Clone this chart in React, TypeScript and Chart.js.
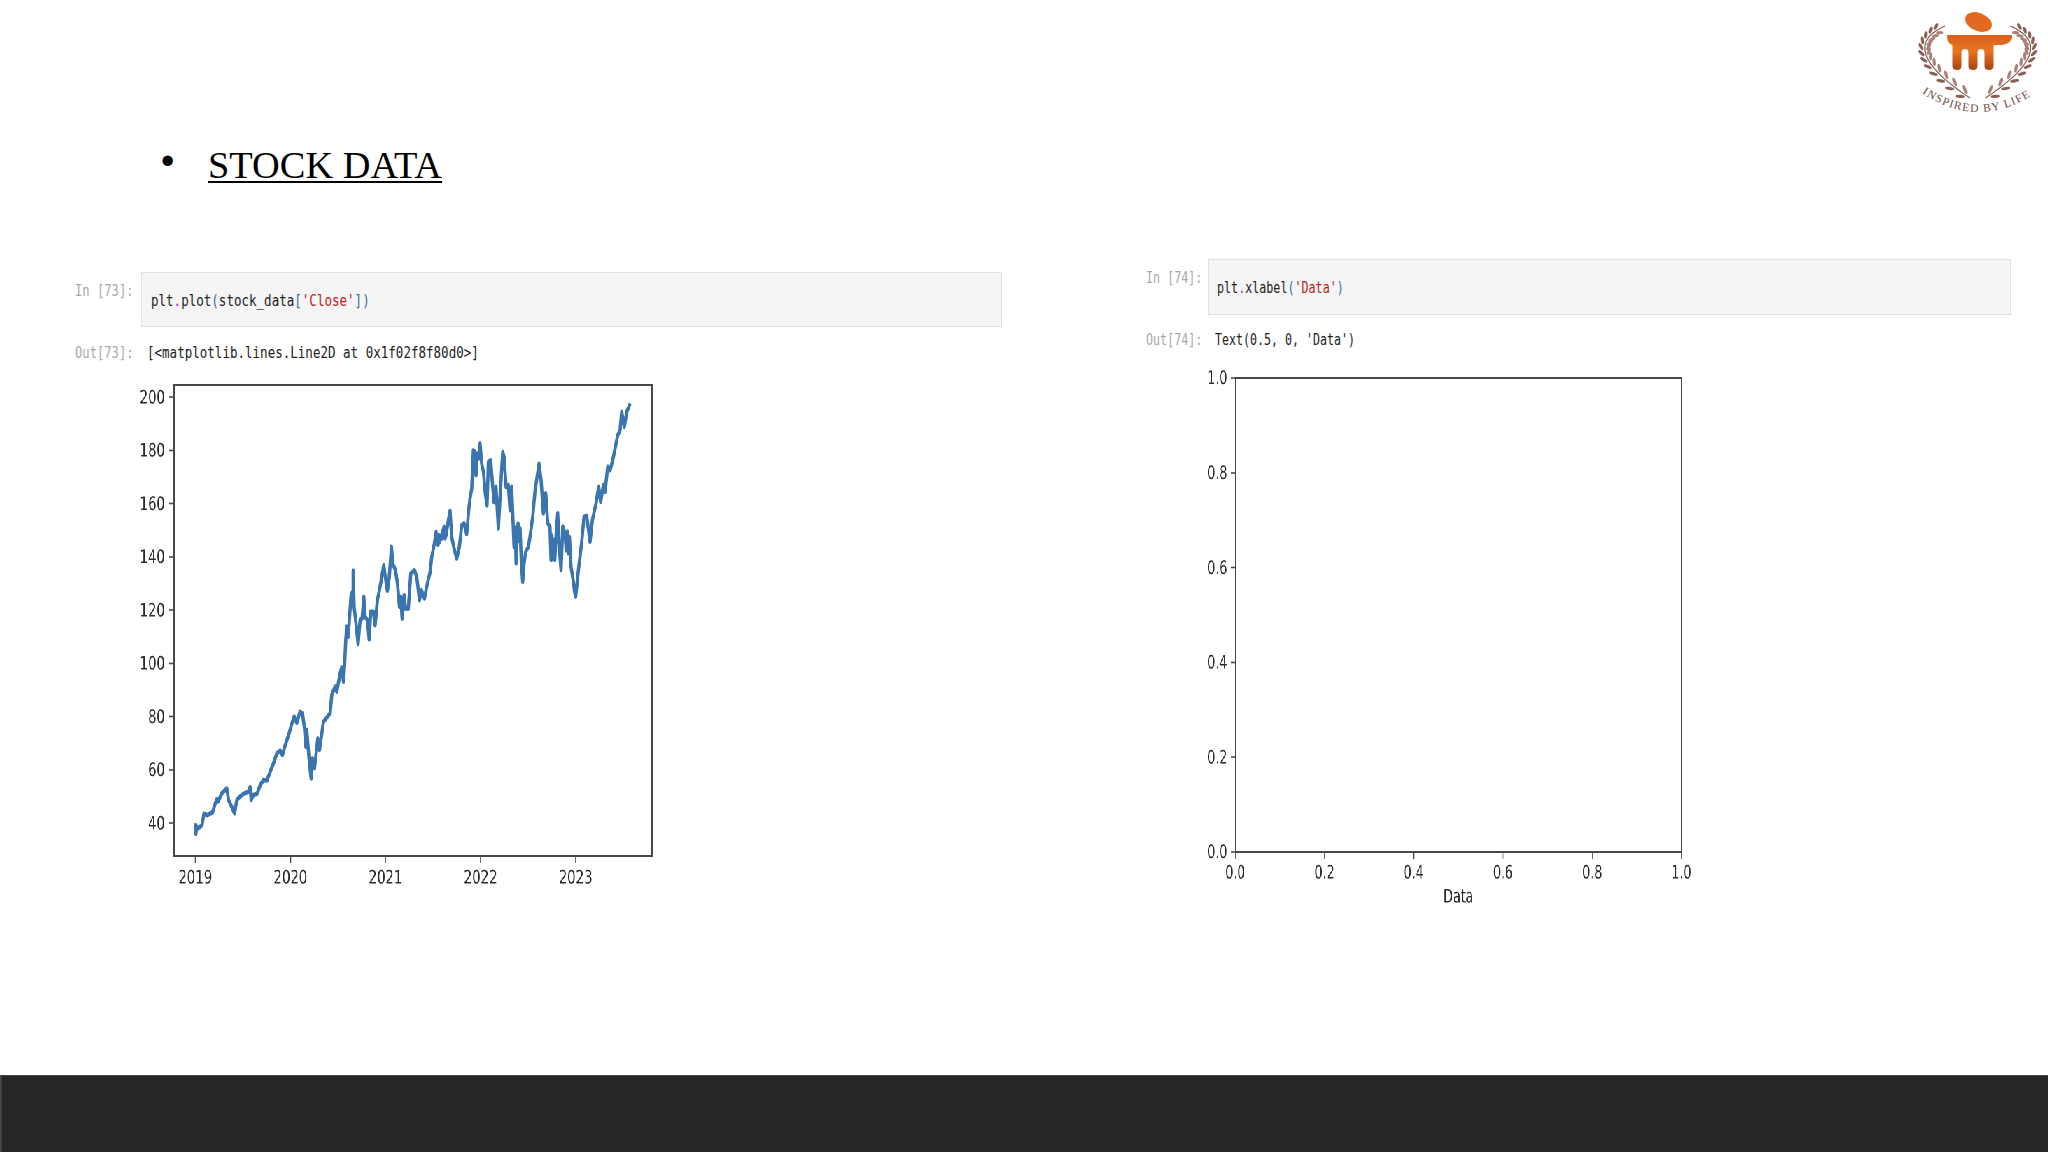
import React, { useEffect, useRef } from "react";
import { Chart, registerables } from "chart.js";

Chart.register(...registerables);

const closeYears = [
  2019.000,2019.005,2019.012,2019.026,2019.050,2019.070,2019.090,2019.125,
  2019.156,2019.180,2019.210,2019.226,2019.240,2019.278,2019.330,2019.349,
  2019.384,2019.412,2019.436,2019.470,2019.506,2019.559,2019.576,2019.587,
  2019.610,2019.647,2019.664,2019.682,2019.717,2019.752,2019.787,2019.822,
  2019.857,2019.892,2019.916,2019.945,2019.980,2020.020,2020.040,2020.067,
  2020.100,2020.127,2020.148,2020.162,2020.172,2020.197,2020.218,2020.232,
  2020.253,2020.288,2020.306,2020.347,2020.418,2020.435,2020.470,2020.488,
  2020.523,2020.540,2020.558,2020.569,2020.582,2020.593,2020.607,2020.620,
  2020.638,2020.653,2020.660,2020.670,2020.690,2020.712,2020.733,2020.754,
  2020.772,2020.786,2020.810,2020.828,2020.845,2020.873,2020.891,2020.915,
  2020.943,2020.982,2021.000,2021.020,2021.040,2021.063,2021.077,2021.105,
  2021.126,2021.147,2021.161,2021.175,2021.196,2021.210,2021.240,2021.266,
  2021.305,2021.329,2021.357,2021.378,2021.410,2021.440,2021.470,2021.486,
  2021.514,2021.532,2021.539,2021.546,2021.553,2021.560,2021.570,2021.580,2021.591,2021.604,2021.616,2021.626,2021.637,2021.661,
  2021.679,2021.696,2021.721,2021.749,2021.777,2021.802,2021.826,2021.854,
  2021.875,2021.889,2021.907,2021.924,2021.933,2021.942,2021.952,2021.966,2021.980,2021.994,2022.012,
  2022.030,2022.050,2022.068,2022.082,2022.106,2022.128,2022.142,2022.162,
  2022.187,2022.205,2022.233,2022.247,2022.268,2022.292,2022.310,2022.327,
  2022.352,2022.358,2022.362,2022.367,2022.373,2022.382,2022.394,2022.405,2022.415,2022.430,2022.443,2022.457,2022.475,2022.503,
  2022.520,2022.548,2022.573,2022.615,2022.636,2022.660,2022.685,2022.706,
  2022.730,2022.741,2022.750,2022.758,2022.766,2022.773,2022.780,2022.795,2022.811,2022.825,2022.846,2022.864,
  2022.888,2022.900,2022.913,2022.923,2022.934,2022.951,2022.976,2022.988,2023.000,2023.029,2023.064,
  2023.088,2023.116,2023.151,2023.176,2023.214,2023.242,2023.263,2023.291,
  2023.309,2023.337,2023.362,2023.390,2023.418,2023.442,2023.467,2023.484,
  2023.512,2023.537,2023.565,2023.578,
];

const closeValues = [
  40.0,36.0,38.8,38.0,38.6,39.3,43.5,43.0,
  43.6,44.0,47.5,49.0,48.2,51.2,53.0,48.7,
  46.0,43.7,48.7,50.0,51.0,51.8,53.5,48.7,
  50.6,51.0,52.5,54.3,56.2,56.0,59.3,62.5,
  66.2,67.2,65.6,69.3,73.0,78.0,80.0,77.7,
  81.8,81.2,75.6,68.7,75.0,63.7,56.8,64.3,
  60.6,71.8,67.5,78.0,81.3,88.2,91.3,89.4,
  96.3,98.5,93.1,98.8,108.8,113.8,110.0,116.3,
  125.6,126.9,134.8,121.3,115.0,107.3,116.3,116.9,
  125.0,117.5,116.3,109.0,119.4,119.4,114.4,123.8,
  128.8,136.9,132.0,127.3,132.5,143.8,137.5,135.0,
  130.0,121.3,125.0,116.9,125.6,120.6,120.6,133.8,
  135.0,132.5,123.8,127.5,124.4,130.0,134.4,140.0,
  145.0,149.4,145.5,147.8,144.6,148.2,145.6,148.0,146.9,149.8,151.3,147.0,148.2,153.8,
  157.3,147.6,143.2,139.4,143.8,151.9,152.6,148.6,
  157.6,161.9,165.7,180.0,171.5,179.5,170.7,178.8,177.0,182.6,175.0,
  172.0,163.8,159.4,175.7,176.3,166.3,160.6,166.3,
  150.7,162.6,179.4,177.6,166.3,167.0,157.6,166.3,
  143.8,151.0,146.0,150.5,137.6,149.0,152.5,146.0,150.7,137.0,130.7,137.5,142.0,143.8,
  147.6,155.0,165.0,175.0,168.9,156.4,163.9,152.6,
  151.4,138.9,148.0,139.5,146.4,140.5,138.9,148.5,156.4,145.0,135.1,151.4,
  148.9,142.5,149.5,141.4,147.5,136.4,130.7,127.0,125.1,135.1,145.7,
  155.1,155.4,145.7,153.9,160.1,166.3,160.7,167.0,
  164.5,173.9,172.6,176.4,181.4,185.7,187.6,194.5,
  188.9,194.5,197.0,196.5,
];

const yearTicks = [2019, 2020, 2021, 2022, 2023];
const closeTicks = [40, 60, 80, 100, 120, 140, 160, 180, 200];
const unitTicks = [0, 0.2, 0.4, 0.6, 0.8, 1.0];
const emptyAxisTitle = "Data";

const TICK_FONT = "'DejaVu Sans', sans-serif";
const INK = "#2b2b2b";

const framePlugin = {
  id: "frame",
  afterDatasetsDraw(chart: any) {
    const { ctx, chartArea: a } = chart;
    ctx.save();
    ctx.strokeStyle = "#484848";
    ctx.lineWidth = 2;
    ctx.strokeRect(a.left, a.top, a.right - a.left, a.bottom - a.top);
    ctx.restore();
  },
};

function axis(
  range: [number, number],
  ticks: number[],
  fmt: (v: number) => string,
  box: { w?: number; h?: number },
  pad: number,
  extra: any = {},
) {
  return {
    type: "linear",
    min: range[0],
    max: range[1],
    afterBuildTicks: (s: any) => {
      s.ticks = ticks.map((value) => ({ value }));
    },
    afterFit: (s: any) => {
      if (box.w) s.width = box.w;
      if (box.h) s.height = box.h;
      s.paddingTop = 0;
      s.paddingBottom = 0;
      s.paddingLeft = 0;
      s.paddingRight = 0;
    },
    border: { display: false },
    grid: { drawOnChartArea: false, drawTicks: true, tickLength: 7, tickColor: "#484848", tickWidth: 1.6 },
    ticks: {
      autoSkip: false,
      maxRotation: 0,
      padding: pad,
      labelOffset: box.w ? 1.3 : 0,
      color: INK,
      font: { family: TICK_FONT, size: 19 },
      callback: (v: any) => fmt(Number(v)),
    },
    ...extra,
  };
}

function makeConfig(datasets: any[], x: any, y: any, top: number, right: number) {
  return {
    type: "line",
    data: { datasets },
    options: {
      animation: false,
      responsive: false,
      devicePixelRatio: 2,
      parsing: false,
      normalized: true,
      layout: { padding: { top, right, left: 0, bottom: 0 } },
      plugins: { legend: { display: false }, tooltip: { enabled: false }, title: { display: false } },
      scales: { x, y },
    },
    plugins: [framePlugin],
  } as any;
}

function Squeezed({ left, top, w, h, sx, build }: any) {
  const ref = useRef<HTMLCanvasElement>(null);
  useEffect(() => {
    const chart = new Chart(ref.current as HTMLCanvasElement, build());
    return () => chart.destroy();
  }, []);
  return (
    <div style={{ position: "absolute", left, top, width: w, height: h, transform: `scaleX(${sx})`, transformOrigin: "0 0" }}>
      <canvas ref={ref} width={w} height={h} style={{ display: "block" }} />
    </div>
  );
}

function Mono({ x, y, sx, color = "#222", children }: any) {
  return (
    <div
      style={{
        position: "absolute", left: x, top: y - 12, height: 24, lineHeight: "24px", whiteSpace: "pre",
        fontFamily: "'DejaVu Sans Mono', monospace", fontSize: 15, color,
        transform: `scaleX(${sx})`, transformOrigin: "0 50%",
      }}
    >
      {children}
    </div>
  );
}

const Cell = ({ x, y, w, h }: any) => (
  <div style={{ position: "absolute", left: x, top: y, width: w, height: h, boxSizing: "border-box", background: "#f5f5f5", border: "1.5px solid #e0e0e0" }} />
);

const leafSteps = [0.04, 0.12, 0.2, 0.28, 0.36, 0.44, 0.52, 0.6, 0.68, 0.76, 0.84, 0.91];

function Branch({ flip }: { flip: boolean }) {
  const p = (t: number) => ({
    x: (1 - t) * (1 - t) * 80 + 2 * t * (1 - t) * 4.5 + t * t * 55,
    y: (1 - t) * (1 - t) * 98 + 2 * t * (1 - t) * 48 + t * t * 26,
  });
  const stem = Array.from({ length: 21 }, (_, i) => p(i / 20)).map((q) => `${q.x.toFixed(1)},${q.y.toFixed(1)}`).join(" ");
  return (
    <g transform={flip ? "translate(175.4,0) scale(-1,1)" : undefined}>
      <polyline points={stem} fill="none" stroke="#7d5a52" strokeWidth="1.1" />
      {leafSteps.map((t) => {
        const a = p(t);
        const b = p(t + 0.01);
        const ang = (Math.atan2(b.y - a.y, b.x - a.x) * 180) / Math.PI;
        const len = 4.8 - t * 1.4;
        return (
          <g key={t} transform={`translate(${a.x},${a.y}) rotate(${ang})`}>
            <ellipse cx={len * 0.8} cy={-2.6} rx={len} ry={1.6} transform="rotate(-30)" fill="#8a5f55" />
            <ellipse cx={len * 0.8} cy={2.6} rx={len} ry={1.6} transform="rotate(30)" fill="#a98178" />
          </g>
        );
      })}
    </g>
  );
}

function Logo() {
  return (
    <svg width="158" height="130" viewBox="0 0 158 130" style={{ position: "absolute", left: 1890, top: 0 }}>
      <defs>
        <linearGradient id="m" x1="0" y1="0" x2="0" y2="1">
          <stop offset="0" stopColor="#d95f1c" />
          <stop offset="0.45" stopColor="#e8751f" />
          <stop offset="1" stopColor="#a8431a" />
        </linearGradient>
        <path id="arc" d="M32,93 Q88,131 146,93" />
      </defs>
      <Branch flip={false} />
      <Branch flip={true} />
      <ellipse cx="88.5" cy="22" rx="14" ry="9" transform="rotate(22 88.5 22)" fill="#e2691f" />
      <path
        d="M57,35 H122 Q123,43 112,45 H103.5 V66 Q103.5,70 99,70 Q94.5,70 94.5,66 V53 Q94.5,49 91,49 Q87.5,49 87.5,53 V66 Q87.5,70 83,70 Q78.5,70 78.5,66 V53 Q78.5,49 75,49 Q71.5,49 71.5,53 V66 Q71.5,70 67,70 Q62.5,70 62.5,66 V45 Q57,44 57,35 Z"
        fill="url(#m)"
      />
      <text fontFamily="'Liberation Serif', serif" fontSize="11.5" letterSpacing="1.2" fill="#6a4a44">
        <textPath href="#arc">INSPIRED BY LIFE</textPath>
      </text>
    </svg>
  );
}

const buildStock = () =>
  makeConfig(
    [{
      data: closeYears.map((x, i) => ({ x, y: closeValues[i] })),
      borderColor: "#3a75b0",
      borderWidth: 4.6,
      borderJoinStyle: "round",
      pointRadius: 0,
      tension: 0,
    }],
    axis([2018.776, 2023.803], yearTicks, (v) => String(v), { h: 50 }, 4),
    axis([27.65, 204.6], closeTicks, (v) => String(v), { w: 70 }, 6),
    10,
    10,
  );

const buildEmpty = () =>
  makeConfig(
    [{ data: [] }],
    axis([0, 1], unitTicks, (v) => v.toFixed(1), { h: 57 }, 3, {
      title: { display: true, text: emptyAxisTitle, color: INK, font: { family: TICK_FONT, size: 19 }, padding: 0 },
    }),
    axis([0, 1], unitTicks, (v) => v.toFixed(1), { w: 70 }, 5),
    10,
    20,
  );

const SX1 = 0.7;
const SX2 = 0.66;

export default function App() {
  useEffect(() => {
    document.body.style.margin = "0";
  }, []);
  return (
    <div style={{ position: "absolute", left: 0, top: 0, width: 2048, height: 1152, overflow: "hidden", background: "#fff", filter: "blur(0.5px)" }}>
      <Logo />

      <div style={{ position: "absolute", left: 161, top: 136, height: 50, lineHeight: "50px", fontFamily: "'Liberation Sans', sans-serif", fontSize: 38, color: "#000" }}>•</div>
      <div style={{ position: "absolute", left: 208, top: 141.5, height: 46, lineHeight: "46px", fontFamily: "'Liberation Serif', serif", fontSize: 38.4, color: "#000", whiteSpace: "nowrap", textDecoration: "underline", textDecorationThickness: 2, textUnderlineOffset: 3 }}>STOCK DATA</div>

      <Cell x={141} y={272} w={861} h={55} />
      <Mono x={75} y={290.5} sx={0.81} color="#a8a8a8">In [73]:</Mono>
      <Mono x={151} y={301} sx={0.835}>
        plt<span style={{ color: "#a2f" }}>.</span>plot<span style={{ color: "#3b6ea5" }}>(</span>stock_data<span style={{ color: "#3b6ea5" }}>[</span><span style={{ color: "#b22" }}>'Close'</span><span style={{ color: "#3b6ea5" }}>])</span>
      </Mono>
      <Mono x={75} y={353} sx={0.81} color="#a8a8a8">Out[73]:</Mono>
      <Mono x={147} y={353} sx={0.835}>{"[<matplotlib.lines.Line2D at 0x1f02f8f80d0>]"}</Mono>

      <Cell x={1208} y={259} w={803} h={56} />
      <Mono x={1146} y={277.5} sx={0.78} color="#a8a8a8">In [74]:</Mono>
      <Mono x={1217} y={288} sx={0.78}>
        plt<span style={{ color: "#a2f" }}>.</span>xlabel<span style={{ color: "#3b6ea5" }}>(</span><span style={{ color: "#b22" }}>'Data'</span><span style={{ color: "#3b6ea5" }}>)</span>
      </Mono>
      <Mono x={1146} y={340} sx={0.78} color="#a8a8a8">Out[74]:</Mono>
      <Mono x={1215} y={340} sx={0.775}>Text(0.5, 0, 'Data')</Mono>

      <Squeezed left={173.7 - 70 * SX1} top={374.6} w={Math.round(70 + 478 / SX1 + 10)} h={531} sx={SX1} build={buildStock} />
      <Squeezed left={1235 - 70 * SX2} top={367.8} w={Math.round(70 + 446 / SX2 + 20)} h={541} sx={SX2} build={buildEmpty} />

      <div style={{ position: "absolute", left: 0, top: 1075, width: 2048, height: 77, boxSizing: "border-box", background: "#262626", borderTop: "1px solid #444", borderLeft: "2px solid #444" }} />
    </div>
  );
}
